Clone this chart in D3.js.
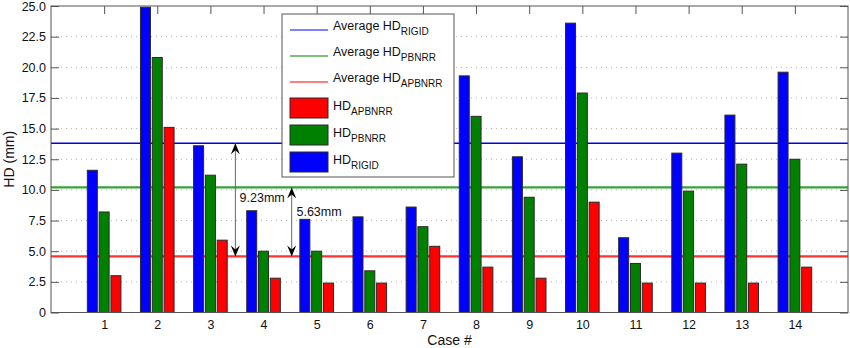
<!DOCTYPE html>
<html>
<head>
<meta charset="utf-8">
<script src="https://cdn.jsdelivr.net/npm/d3@7"></script>
<style>
  body { margin: 0; background: #fff; }
  svg { display: block; font-family: "Liberation Sans", Arial, Helvetica, sans-serif; }
</style>
</head>
<body>
<div id="chart"></div>
<script>
// values
const cases = [1, 2, 3, 4, 5, 6, 7, 8, 9, 10, 11, 12, 13, 14];
const hdRigid  = [11.6, 24.9, 13.6, 8.3, 7.6, 7.8, 8.6, 19.3, 12.7, 23.6, 6.1, 13.0, 16.1, 19.6];
const hdPbnrr  = [8.2, 20.8, 11.2, 5.0, 5.0, 3.4, 7.0, 16.0, 9.4, 17.9, 4.0, 9.9, 12.1, 12.5];
const hdApbnrr = [3.0, 15.1, 5.9, 2.8, 2.4, 2.4, 5.4, 3.7, 2.8, 9.0, 2.4, 2.4, 2.4, 3.7];
const averages = [
    { key: 'RIGID', value: 13.8 },
    { key: 'PBNRR', value: 10.2 },
    { key: 'APBNRR', value: 4.57 }
];
const yTicks = [0, 2.5, 5, 7.5, 10, 12.5, 15, 17.5, 20, 22.5, 25];
// arrows: x position in case units, from/to in mm, label and its anchor
const gaps = [
    { x: 3.47, from: 13.8, to: 4.57, label: '9.23mm', lx: 3.55, ly: 9.0 },
    { x: 4.53, from: 10.2, to: 4.57, label: '5.63mm', lx: 4.62, ly: 7.9 }
];

const colors = { RIGID: '#0000ff', PBNRR: '#008000', APBNRR: '#ff0000' };
const avgColors = { RIGID: '#0000ee', PBNRR: '#36a336', APBNRR: '#ff3030' };
const avgWidth = { RIGID: 1.5, PBNRR: 2.2, APBNRR: 2.2 };

const W = 850, H = 348;
const plot = { left: 51, right: 848, top: 6, bottom: 312.5 };

const svg = d3.select('#chart').append('svg')
    .attr('width', W).attr('height', H);

const x = d3.scaleLinear().domain([0, 15]).range([plot.left, plot.right]);
const y = d3.scaleLinear().domain([0, 25]).range([plot.bottom, plot.top]);

const series = [
    { key: 'RIGID', values: hdRigid },
    { key: 'PBNRR', values: hdPbnrr },
    { key: 'APBNRR', values: hdApbnrr }
];
const inner = d3.scaleBand()
    .domain(series.map(s => s.key))
    .range([-16.8, 16.8])
    .paddingInner(0.153);

// dotted grid
svg.append('g')
    .selectAll('line')
    .data(yTicks.filter(t => t > 0 && t < 25))
    .enter().append('line')
    .attr('x1', plot.left).attr('x2', plot.right)
    .attr('y1', d => y(d)).attr('y2', d => y(d))
    .attr('stroke', '#b5b5b5')
    .attr('stroke-width', 1)
    .attr('stroke-dasharray', '1,4');

// average lines
svg.append('g')
    .selectAll('line')
    .data(averages)
    .enter().append('line')
    .attr('x1', plot.left).attr('x2', plot.right)
    .attr('y1', d => y(d.value)).attr('y2', d => y(d.value))
    .attr('stroke', d => avgColors[d.key])
    .attr('stroke-width', d => avgWidth[d.key]);

// axes (ticks inward, MATLAB box style)
const fmt = d => d === 0 ? '0' : d3.format('.1f')(d);
svg.append('g')
    .attr('transform', `translate(${plot.left},0)`)
    .call(d3.axisLeft(y).tickValues(yTicks).tickSize(-8).tickPadding(5).tickFormat(fmt));
svg.append('g')
    .attr('transform', `translate(${plot.right},0)`)
    .call(d3.axisRight(y).tickValues(yTicks).tickSize(-8).tickFormat(''));
svg.append('g')
    .attr('transform', `translate(0,${plot.top})`)
    .call(d3.axisTop(x).tickValues(cases).tickSize(-8).tickFormat(''));
svg.append('g')
    .attr('transform', `translate(0,${plot.bottom})`)
    .call(d3.axisBottom(x).tickValues(cases).tickSize(-8).tickPadding(7.5).tickFormat(d3.format('d')));

svg.selectAll('.domain').remove();
svg.selectAll('.tick line').attr('stroke', '#555');
svg.selectAll('.tick text').attr('fill', '#111').style('font-size', '12.5px')
    .style('font-family', '"Liberation Sans", Arial, sans-serif');

// bars
series.forEach(s => {
    svg.append('g')
        .selectAll('rect')
        .data(s.values)
        .enter().append('rect')
        .attr('x', (d, i) => x(cases[i]) + inner(s.key))
        .attr('y', d => y(d))
        .attr('width', inner.bandwidth())
        .attr('height', d => y(0) - y(d))
        .attr('fill', colors[s.key])
        .attr('stroke', '#2a2a2a')
        .attr('stroke-width', 1);
});

// frame
svg.append('rect')
    .attr('x', plot.left).attr('y', plot.top)
    .attr('width', plot.right - plot.left).attr('height', plot.bottom - plot.top)
    .attr('fill', 'none')
    .attr('stroke', '#555')
    .attr('stroke-width', 1);

// arrows
const defs = svg.append('defs');
defs.append('marker')
    .attr('id', 'head')
    .attr('viewBox', '-11 -5 12 10')
    .attr('refX', 0).attr('refY', 0)
    .attr('markerWidth', 12).attr('markerHeight', 10)
    .attr('markerUnits', 'userSpaceOnUse')
    .attr('orient', 'auto-start-reverse')
    .append('path')
    .attr('d', 'M0,0 L-11,-4.5 L-7,0 L-11,4.5 Z')
    .attr('fill', '#000');

svg.append('g')
    .selectAll('line')
    .data(gaps)
    .enter().append('line')
    .attr('x1', d => x(d.x)).attr('x2', d => x(d.x))
    .attr('y1', d => y(d.from)).attr('y2', d => y(d.to))
    .attr('stroke', '#666')
    .attr('stroke-width', 1)
    .attr('marker-start', 'url(#head)')
    .attr('marker-end', 'url(#head)');

svg.append('g')
    .selectAll('text')
    .data(gaps)
    .enter().append('text')
    .attr('x', d => x(d.lx)).attr('y', d => y(d.ly))
    .style('font-size', '12.5px')
    .attr('fill', '#111')
    .text(d => d.label);

// axis titles
svg.append('text')
    .attr('transform', `translate(14,${(plot.top + plot.bottom) / 2}) rotate(-90)`)
    .attr('text-anchor', 'middle')
    .style('font-size', '14px')
    .attr('fill', '#111')
    .text('HD (mm)');

svg.append('text')
    .attr('x', (plot.left + plot.right) / 2).attr('y', 345)
    .attr('text-anchor', 'middle')
    .style('font-size', '14px')
    .attr('fill', '#111')
    .text('Case #');

// legend
const legendItems = [
    { type: 'line', main: 'Average HD', sub: 'RIGID', key: 'RIGID' },
    { type: 'line', main: 'Average HD', sub: 'PBNRR', key: 'PBNRR' },
    { type: 'line', main: 'Average HD', sub: 'APBNRR', key: 'APBNRR' },
    { type: 'rect', main: 'HD', sub: 'APBNRR', key: 'APBNRR' },
    { type: 'rect', main: 'HD', sub: 'PBNRR', key: 'PBNRR' },
    { type: 'rect', main: 'HD', sub: 'RIGID', key: 'RIGID' }
];
const legend = svg.append('g').attr('transform', 'translate(282,14)');
legend.append('rect')
    .attr('width', 172).attr('height', 163)
    .attr('fill', '#fff')
    .attr('stroke', '#555');

const rowY = [16, 42, 68, 94, 121, 148];
const rows = legend.selectAll('g.item')
    .data(legendItems)
    .enter().append('g')
    .attr('class', 'item')
    .attr('transform', (d, i) => `translate(0,${rowY[i]})`);

rows.filter(d => d.type === 'line').append('line')
    .attr('x1', 8).attr('x2', 46)
    .attr('y1', 0).attr('y2', 0)
    .attr('stroke', d => colors[d.key])
    .attr('stroke-width', 1.2);

rows.filter(d => d.type === 'rect').append('rect')
    .attr('x', 8).attr('y', -10)
    .attr('width', 38).attr('height', 20)
    .attr('fill', d => colors[d.key])
    .attr('stroke', '#2a2a2a');

const labels = rows.append('text')
    .attr('x', 51)
    .attr('y', d => d.type === 'line' ? 0 : 2)
    .attr('fill', '#111')
    .style('font-size', '12.5px');
labels.append('tspan').text(d => d.main);
labels.append('tspan')
    .attr('dy', 5)
    .style('font-size', '10px')
    .text(d => d.sub);
</script>
</body>
</html>
